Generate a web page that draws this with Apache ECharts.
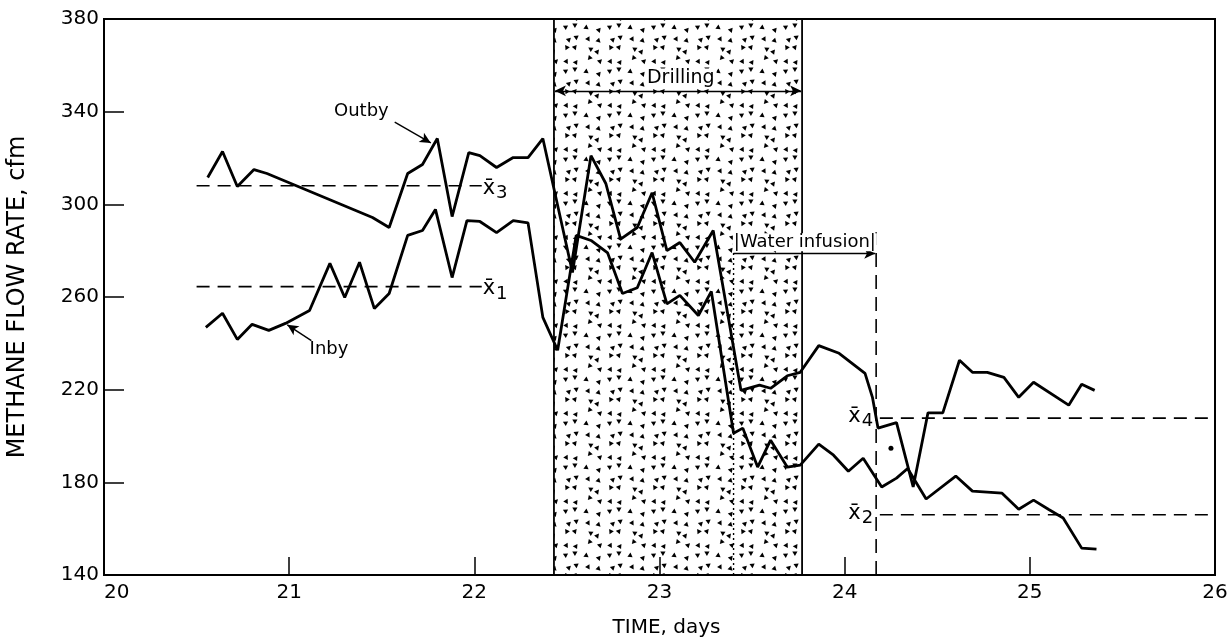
<!DOCTYPE html>
<html><head><meta charset="utf-8">
<script src="https://cdn.jsdelivr.net/npm/echarts@6/dist/echarts.min.js"></script>
<style>html,body{margin:0;padding:0;background:#fff}#c{width:1230px;height:642px}</style>
</head><body><div id="c"></div>
<script>
// ---- data ----
const outbyDays = [20.56,20.64,20.72,20.81,20.88,21.45,21.54,21.64,21.72,21.80,21.88,21.97,22.03,22.12,22.21,22.29,22.37,22.53,22.63,22.71,22.79,22.88,22.96,23.04,23.11,23.19,23.29,23.44,23.54,23.60,23.69,23.76,23.86,23.97,24.11,24.15,24.18,24.28,24.37,24.45,24.53,24.62,24.69,24.77,24.86,24.94,25.02,25.21,25.28,25.35];
const outbyValues = [311.6,322.8,307.7,315,313.3,294.3,290,313.3,317.2,328.4,294.7,322.3,321,315.9,320.2,320.2,328.4,270.6,321,309,285,290,305,280,283.5,275,288.7,219.7,222,220.6,226,227.5,239,235.7,227,216.7,203.4,205.8,178,210,210,232.7,227.5,227.5,225.3,216.7,223.2,213.3,222.3,219.7];
const inbyDays = [20.55,20.64,20.72,20.80,20.89,20.98,21.11,21.22,21.30,21.38,21.46,21.54,21.64,21.72,21.79,21.88,21.96,22.03,22.12,22.21,22.29,22.37,22.45,22.55,22.63,22.72,22.80,22.88,22.96,23.04,23.11,23.21,23.28,23.40,23.45,23.53,23.60,23.69,23.76,23.86,23.94,24.02,24.10,24.20,24.28,24.34,24.44,24.60,24.69,24.85,24.94,25.02,25.10,25.18,25.28,25.36];
const inbyValues = [246.9,253,241.7,248.2,245.6,248.6,254.2,274.5,259.8,275,255,261.5,286.6,288.7,297.8,268.4,293,292.6,287.8,293,292,251.2,237,286.6,284.4,279,261.5,264,279.2,257,260.7,252,262.4,201.2,203.4,186.6,198.2,186.6,187.4,196.5,191.7,184.8,190.4,178,181.8,186,172.8,182.7,176.2,175.3,168.4,172.3,168.4,164.6,151.6,151.2];
const meanNames = ['3','1','4','2'];
const meanValues = [308, 264.5, 207.7, 166];
const meanStarts = [20.5, 20.5, 24.19, 24.19];
const meanEnds = [22.04, 22.04, 25.98, 25.98];
const drillingSpan = [22.43, 23.77];
const infusionSpan = [23.40, 24.17];
const strayPoint = [24.25, 194.7];
const xMin = 20, xMax = 26, xStep = 1;
const yMin = 140, yMax = 380, yStep = 40;

// ---- stipple pattern for the drilling period ----
function makePattern(){
  const S = 44, n = 4, cell = S / n;
  const c = document.createElement('canvas'); c.width = S; c.height = S;
  const g = c.getContext('2d'); g.fillStyle = '#000';
  const h = (a,b) => { const v = Math.sin(a*12.9898 + b*78.233) * 43758.5453; return v - Math.floor(v); };
  for (let i = 0; i < n; i++) for (let j = 0; j < n; j++) {
    const cx = (i + 0.25 + 0.5*h(i,j)) * cell, cy = (j + 0.25 + 0.5*h(j+7,i+3)) * cell;
    const r = 3.0, a0 = h(i+11,j+5) * Math.PI * 2;
    g.beginPath();
    for (let k = 0; k < 3; k++) { const a = a0 + k*2*Math.PI/3; const px = cx + r*Math.cos(a), py = cy + r*Math.sin(a); k ? g.lineTo(px,py) : g.moveTo(px,py); }
    g.closePath(); g.fill();
  }
  return c;
}

const FONT = 'DejaVu Sans';
const zip = (xs, ys) => xs.map((x,i) => [x, ys[i]]);
const lineBase = { type:'line', symbol:'none', silent:true, animation:false, z:5 };

const series = [];
series.push(Object.assign({}, lineBase, { name:'Outby', data: zip(outbyDays, outbyValues), lineStyle:{ color:'#000', width:2.8 } }));
series.push(Object.assign({}, lineBase, { name:'Inby', data: zip(inbyDays, inbyValues), lineStyle:{ color:'#000', width:2.8 } }));
meanValues.forEach((v,i) => {
  series.push(Object.assign({}, lineBase, { name:'mean'+meanNames[i], data:[[meanStarts[i], v],[meanEnds[i], v]], lineStyle:{ color:'#000', width:1.6, type:[13,8] } }));
});
series.push(Object.assign({}, lineBase, { name:'drillL', data:[[drillingSpan[0], yMin],[drillingSpan[0], yMax]], lineStyle:{ color:'#000', width:1.8 },
  markArea:{ silent:true, itemStyle:{ color:{ image: makePattern(), repeat:'repeat' } }, data:[[{ xAxis: drillingSpan[0] },{ xAxis: drillingSpan[1] }]] }, z:2 }));
series.push(Object.assign({}, lineBase, { name:'drillR', data:[[drillingSpan[1], yMin],[drillingSpan[1], yMax]], lineStyle:{ color:'#000', width:1.8 } }));
series.push(Object.assign({}, lineBase, { name:'infL', data:[[infusionSpan[0], yMin],[infusionSpan[0], 284]], lineStyle:{ color:'#000', width:1.4, type:[2,3] } }));
series.push(Object.assign({}, lineBase, { name:'infR', data:[[infusionSpan[1], yMin],[infusionSpan[1], 288]], lineStyle:{ color:'#000', width:1.6, type:[14,8] } }));
series.push({ type:'line', data:[], silent:true, animation:false, z:6,
  markLine:{ silent:true, animation:false, label:{show:false}, symbolSize:[8,11],
    lineStyle:{ color:'#000', width:1.4, type:'solid' },
    data:[
      [{ coord:[drillingSpan[0]+0.005, 349], symbol:'arrow' }, { coord:[drillingSpan[1]-0.005, 349], symbol:'arrow' }],
      [{ coord:[infusionSpan[0], 278.8], symbol:'none' }, { coord:[infusionSpan[1]-0.005, 278.8], symbol:'arrow' }],
      [{ coord:[21.57, 335.5], symbol:'none' }, { coord:[21.765, 326.5], symbol:'arrow' }],
      [{ coord:[21.12, 241.2], symbol:'none' }, { coord:[20.99, 248.0], symbol:'arrow' }]
    ] } });
series.push({ type:'scatter', data:[strayPoint], symbolSize:5, itemStyle:{ color:'#000', opacity:1 }, silent:true, animation:false, z:6 });
const txt = (x, y, text, extra) => ({ value:[x,y], label: Object.assign({ show:true, formatter:text, position:'inside', color:'#000', textBorderWidth:0, textBorderColor:'transparent', fontFamily:FONT, fontSize:19 }, extra||{}) });
const meanRich = { m:{ fontFamily:FONT, fontSize:21, color:'#000' }, s:{ fontFamily:FONT, fontSize:18, color:'#000', padding:[10,0,0,1] } };
series.push({ type:'scatter', symbolSize:0, silent:true, animation:false, z:7, itemStyle:{ color:'#000', opacity:1 },
  data:[
    txt(23.115, 354.5, 'Drilling', { fontSize:19, backgroundColor:'#fff', padding:[0,2] }),
    txt(23.785, 283.6, '|Water infusion|', { fontSize:18, backgroundColor:'#fff', padding:[0,1] }),
    txt(21.39, 340, 'Outby', { fontSize:18 }),
    txt(21.215, 237.5, 'Inby', { fontSize:18 }),
    txt(22.045, 307, '{m|x\u0304}{s|3}', { position:'right', distance:0, rich:meanRich }),
    txt(22.045, 263.5, '{m|x\u0304}{s|1}', { position:'right', distance:0, rich:meanRich }),
    txt(24.165, 208.5, '{m|x\u0304}{s|4}', { position:'left', distance:2, rich:meanRich }),
    txt(24.165, 166.5, '{m|x\u0304}{s|2}', { position:'left', distance:2, rich:meanRich })
  ] });

const chart = echarts.init(document.getElementById('c'), null, { renderer:'canvas' });
chart.setOption({
  animation:false,
  backgroundColor:'#fff',
  grid:{ left:104, right:15, top:19, bottom:67, show:true, borderColor:'#000', borderWidth:2, backgroundColor:'transparent', containLabel:false, outerBoundsMode:'none' },
  xAxis:{ type:'value', min:xMin, max:xMax, interval:xStep,
    name:'TIME, days', nameLocation:'middle', nameGap:43,
    nameTextStyle:{ fontFamily:FONT, fontSize:20, color:'#000', padding:[0,0,0,14] },
    axisLine:{ show:true, lineStyle:{ color:'#000', width:2 } },
    axisTick:{ show:true, inside:true, length:18, lineStyle:{ color:'#000', width:1.5 } },
    axisLabel:{ fontFamily:FONT, fontSize:20, color:'#000', margin:8, alignMinLabel:'left' },
    splitLine:{ show:false } },
  yAxis:{ type:'value', min:yMin, max:yMax, interval:yStep,
    name:'METHANE FLOW RATE, cfm', nameLocation:'middle', nameGap:74,
    nameTextStyle:{ fontFamily:FONT, fontSize:24, color:'#000' },
    axisLine:{ show:true, lineStyle:{ color:'#000', width:2 } },
    axisTick:{ show:true, inside:true, length:20, lineStyle:{ color:'#000', width:1.5 } },
    axisLabel:{ fontFamily:FONT, fontSize:20, color:'#000', margin:5 },
    splitLine:{ show:false } },
  series: series
});
</script></body></html>
